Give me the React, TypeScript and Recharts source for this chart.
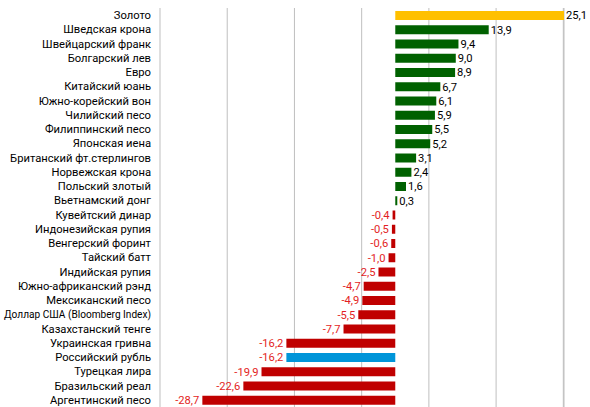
import { BarChart, Bar, XAxis, YAxis, CartesianGrid, Cell, LabelList } from 'recharts';

// изменение курса к доллару, %
const currencies = [
    'Золото',
    'Шведская крона',
    'Швейцарский франк',
    'Болгарский лев',
    'Евро',
    'Китайский юань',
    'Южно-корейский вон',
    'Чилийский песо',
    'Филиппинский песо',
    'Японская иена',
    'Британский фт.стерлингов',
    'Норвежская крона',
    'Польский злотый',
    'Вьетнамский донг',
    'Кувейтский динар',
    'Индонезийская рупия',
    'Венгерский форинт',
    'Тайский батт',
    'Индийская рупия',
    'Южно-африканский рэнд',
    'Мексиканский песо',
    'Доллар США (Bloomberg Index)',
    'Казахстанский тенге',
    'Украинская гривна',
    'Российский рубль',
    'Турецкая лира',
    'Бразильский реал',
    'Аргентинский песо',
];
const changes = [
    25.1, 13.9, 9.4, 9.0, 8.9, 6.7, 6.1, 5.9, 5.5, 5.2, 3.1, 2.4, 1.6, 0.3,
    -0.4, -0.5, -0.6, -1.0, -2.5, -4.7, -4.9, -5.5, -7.7, -16.2, -16.2, -19.9, -22.6, -28.7,
];
const xTicks = [-35, -25, -15, -5, 5, 15, 25];

const GOLD = 'Золото';
const RUBLE = 'Российский рубль';
const FONT = 'Roboto, "Liberation Sans", sans-serif';
const FONT_SIZE = 11.2;

const data = currencies.map((name, i) => ({ name, value: changes[i] }));

function barColor(name: string, value: number): string {
    if (name === GOLD) return '#ffc000';
    if (name === RUBLE) return '#0095d9';
    return value >= 0 ? '#006100' : '#c00000';
}

function ValueLabel(props: any) {
    const { x, y, width, height, value } = props;
    const neg = value < 0;
    const left = Math.min(x, x + width);
    const right = Math.max(x, x + width);
    return (
        <text
            x={neg ? left - 3 : right + 2}
            y={y + height / 2}
            dy="0.35em"
            textAnchor={neg ? 'end' : 'start'}
            fill={neg ? '#e31e24' : '#000'}
            fontSize={FONT_SIZE}
            fontFamily={FONT}
        >
            {value.toFixed(1).replace('.', ',')}
        </text>
    );
}

// plain text tick so long names don't wrap; the one very long name is squeezed a bit
function NameTick(props: any) {
    const { x, y, payload } = props;
    const long = payload.value.length > 25;
    return (
        <text
            x={x - 7}
            y={y}
            dy="0.35em"
            textAnchor="end"
            fill="#000"
            fontSize={FONT_SIZE}
            fontFamily={FONT}
            textLength={long ? 147 : undefined}
            lengthAdjust={long ? 'spacingAndGlyphs' : undefined}
        >
            {payload.value}
        </text>
    );
}

export default function App() {
    return (
        <div style={{ position: 'absolute', left: 0, top: 0, background: '#fff' }}>
            <BarChart
                width={590}
                height={407}
                data={data}
                layout="vertical"
                margin={{ top: 8, right: 26, bottom: 0, left: 0 }}
            >
                <CartesianGrid horizontal={false} stroke="#bfbfbf" />
                <XAxis type="number" domain={[-35, 25]} ticks={xTicks} hide />
                <YAxis
                    type="category"
                    dataKey="name"
                    width={160}
                    interval={0}
                    axisLine={false}
                    tickLine={false}
                    tickSize={0}
                    tick={NameTick}
                />
                <Bar dataKey="value" barSize={9} isAnimationActive={false}>
                    {data.map((d) => (
                        <Cell key={d.name} fill={barColor(d.name, d.value)} />
                    ))}
                    <LabelList dataKey="value" content={ValueLabel} />
                </Bar>
            </BarChart>
        </div>
    );
}
